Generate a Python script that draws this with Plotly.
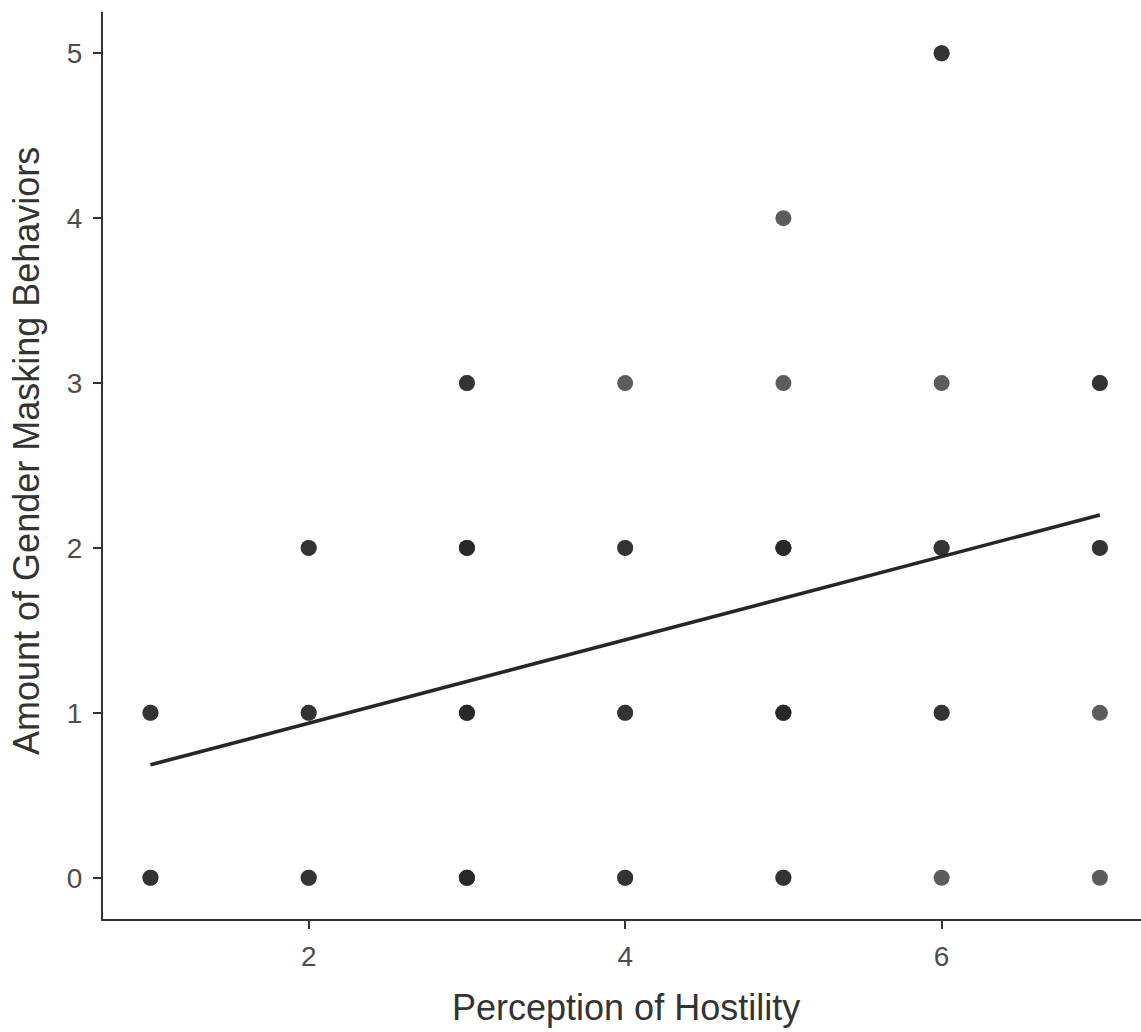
import plotly.graph_objects as go

# Observed (x, y) combinations and how many responses overlap at each
pts_x = [1, 1, 2, 2, 2, 3, 3, 3, 3, 4, 4, 4, 4, 5, 5, 5, 5, 5, 6, 6, 6, 6, 6, 7, 7, 7, 7]
pts_y = [1, 0, 2, 1, 0, 3, 2, 1, 0, 3, 2, 1, 0, 4, 3, 2, 1, 0, 5, 3, 2, 1, 0, 3, 2, 1, 0]
counts = [2, 2, 2, 2, 2, 2, 3, 3, 3, 1, 2, 2, 2, 1, 1, 3, 3, 2, 2, 1, 2, 2, 1, 2, 2, 1, 1]

# Fitted regression line
fit_x = [1, 7]
fit_y = [0.685, 2.2]

x_ticks = [2, 4, 6]
y_ticks = [0, 1, 2, 3, 4, 5]

x_title = "Perception of Hostility"
y_title = "Amount of Gender Masking Behaviors"

# expand points by count so overlapping responses darken
ex_x, ex_y = [], []
for xv, yv, c in zip(pts_x, pts_y, counts):
    for _ in range(c):
        ex_x.append(xv)
        ex_y.append(yv)

FONT = "Liberation Sans, Arial, sans-serif"

fig = go.Figure()
fig.add_trace(go.Scatter(
    x=ex_x, y=ex_y, mode="markers",
    marker=dict(size=16, color="#262626", opacity=0.75, line=dict(width=0)),
    hoverinfo="skip", showlegend=False,
))
fig.add_trace(go.Scatter(
    x=fit_x, y=fit_y, mode="lines",
    line=dict(color="#262626", width=3.6),
    showlegend=False,
))

axis_common = dict(
    showgrid=False, zeroline=False, showline=True,
    linecolor="#333333", linewidth=2,
    ticks="outside", ticklen=8, tickwidth=2, tickcolor="#333333",
    tickfont=dict(family=FONT, size=28, color="#4d4d4d"),
)

fig.update_layout(
    width=1141, height=1032,
    margin=dict(l=103, r=0, t=12, b=113),
    paper_bgcolor="white", plot_bgcolor="white",
    xaxis=dict(range=[0.7, 7.26], tickvals=x_ticks, ticktext=[str(v) for v in x_ticks],
               ticklabelstandoff=3, **axis_common),
    yaxis=dict(range=[-0.25, 5.25], tickvals=y_ticks, ticktext=[str(v) for v in y_ticks],
               ticklabelstandoff=5, **axis_common),
    annotations=[
        dict(text=x_title, xref="paper", yref="paper", x=0.504, y=0,
             xanchor="center", yanchor="top", yshift=-66, showarrow=False,
             font=dict(family=FONT, size=36, color="#333333")),
        dict(text=y_title, xref="paper", yref="paper", x=0, y=0.516,
             xanchor="center", yanchor="middle", xshift=-76, textangle=-90,
             showarrow=False, font=dict(family=FONT, size=36, color="#333333")),
    ],
)

fig.write_html("out.html")
